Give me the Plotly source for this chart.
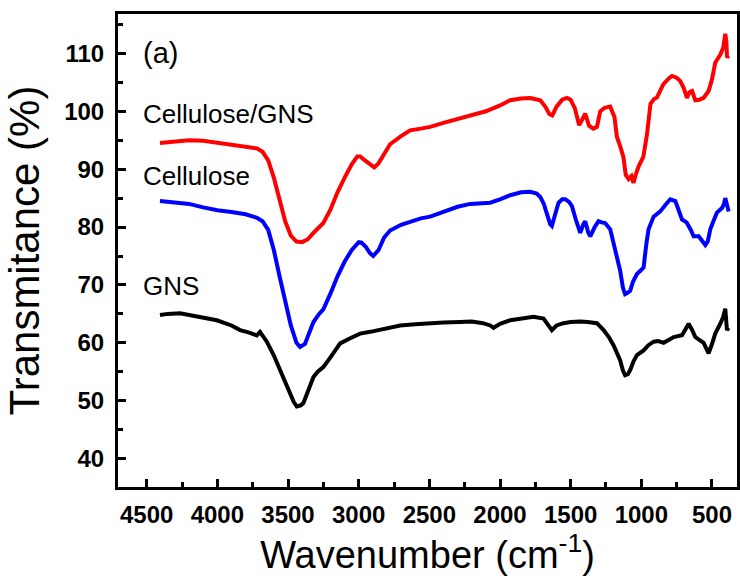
import plotly.graph_objects as go

# Cellulose/GNS (red)
wn_cg = [4406, 4300, 4200, 4100, 4000, 3900, 3800, 3720, 3680, 3640, 3600, 3560, 3520, 3480, 3440, 3400,
         3360, 3320, 3280, 3250, 3200, 3150, 3100, 3050, 3010, 2990, 2960, 2920, 2890, 2860, 2820, 2778,
         2700, 2636, 2560, 2494, 2400, 2300, 2211, 2100, 2000, 1928, 1850, 1786, 1715, 1680, 1650, 1630,
         1600, 1560, 1527, 1500, 1470, 1440, 1420, 1397, 1370, 1340, 1314, 1291, 1260, 1220, 1190, 1173,
         1150, 1127, 1110, 1090, 1070, 1056, 1040, 1019, 986, 960, 935, 910, 889, 844, 800, 783, 750, 724,
         700, 677, 660, 641, 618, 590, 559, 524, 500, 477, 441, 420, 406, 398, 394, 382]
t_cg = [94.5, 94.8, 95.0, 94.9, 94.6, 94.3, 94.0, 93.6, 93.0, 91.5, 88.5, 84.5, 81.0, 78.5, 77.5, 77.4,
        77.9, 79.0, 80.0, 80.7, 83.0, 86.0, 88.5, 90.8, 92.2, 92.2, 91.6, 90.8, 90.3, 91.0, 92.5, 94.3,
        95.7, 96.7, 97.0, 97.3, 98.0, 98.7, 99.3, 100.0, 101.0, 101.9, 102.2, 102.3, 101.9, 100.8, 99.5, 99.3,
        100.8, 102.0, 102.3, 102.0, 100.5, 97.6, 98.5, 99.6, 97.5, 97.0, 97.3, 100.0, 100.6, 100.8, 99.0, 95.6,
        94.0, 92.1, 89.0, 88.3, 88.8, 87.6, 89.0, 90.5, 92.1, 96.0, 101.3, 102.1, 102.4, 104.7, 105.8, 106.1, 105.8, 105.2,
        104.0, 102.3, 103.3, 103.5, 101.9, 102.0, 102.3, 103.5, 105.5, 108.4, 109.8, 111.0, 113.4, 112.0, 109.3, 109.6]

# Cellulose (blue)
wn_c = [4406, 4300, 4200, 4100, 4000, 3900, 3800, 3720, 3680, 3640, 3600, 3560, 3520, 3480, 3440, 3415,
        3380, 3350, 3320, 3280, 3250, 3200, 3150, 3100, 3050, 3000, 2980, 2950, 2920, 2897, 2860, 2820,
        2778, 2700, 2636, 2560, 2494, 2400, 2300, 2211, 2100, 2069, 2000, 1928, 1850, 1786, 1740, 1715,
        1690, 1668, 1645, 1633, 1610, 1586, 1560, 1538, 1510, 1491, 1460, 1432, 1410, 1397, 1375, 1361,
        1330, 1303, 1280, 1256, 1220, 1185, 1150, 1130, 1115, 1100, 1079, 1060, 1031, 1005, 984, 965, 949,
        913, 866, 830, 795, 759, 730, 712, 690, 677, 650, 630, 594, 570, 547, 530, 512, 490, 465, 429,
        415, 406, 396, 382]
t_c = [84.5, 84.3, 84.0, 83.4, 82.9, 82.6, 82.2, 81.6, 81.0, 79.5, 76.0, 71.5, 67.0, 63.0, 60.0, 59.3,
       59.8, 61.5, 63.6, 65.0, 65.8, 68.5, 71.5, 74.0, 76.0, 77.4, 77.3, 76.6, 75.5, 75.0, 76.0, 78.2,
       79.4, 80.4, 80.9, 81.5, 81.8, 82.7, 83.5, 84.0, 84.2, 84.2, 84.8, 85.5, 86.0, 86.1, 85.8, 85.2,
       84.0, 82.3, 80.5, 80.2, 82.0, 84.2, 84.8, 84.8, 84.3, 83.6, 81.0, 79.0, 80.5, 81.0, 79.0, 78.4,
       80.0, 81.0, 80.8, 80.7, 79.6, 76.1, 72.5, 69.5, 68.4, 68.6, 69.0, 70.5, 71.9, 72.5, 73.0, 77.0, 79.6,
       81.8, 82.7, 83.8, 84.8, 84.5, 82.5, 81.3, 81.0, 80.7, 79.5, 78.4, 78.4, 77.5, 76.9, 77.5, 79.6, 81.0, 82.5, 83.3,
       84.0, 85.0, 84.0, 82.7]

# GNS (black)
wn_g = [4406, 4350, 4264, 4200, 4100, 4004, 3900, 3839, 3780, 3721, 3698, 3670, 3650, 3600, 3556, 3520,
        3485, 3460, 3438, 3410, 3391, 3360, 3320, 3290, 3250, 3200, 3131, 3060, 2990, 2918, 2800, 2706,
        2600, 2494, 2400, 2282, 2200, 2120, 2069, 2046, 2000, 1928, 1850, 1763, 1692, 1660, 1633, 1600,
        1551, 1500, 1432, 1380, 1314, 1267, 1230, 1197, 1170, 1150, 1130, 1115, 1095, 1079, 1055, 1031,
        984, 950, 913, 880, 842, 800, 771, 712, 680, 665, 640, 618, 590, 559, 540, 524, 500, 477, 441,
        420, 406, 398, 394, 382]
t_g = [64.8, 65.0, 65.1, 64.8, 64.4, 63.9, 63.0, 62.2, 61.8, 61.3, 61.9, 61.0, 60.2, 57.8, 55.3, 53.3,
       51.3, 49.8, 49.0, 49.2, 49.6, 51.5, 54.1, 55.0, 55.8, 57.5, 59.9, 60.8, 61.6, 61.9, 62.6, 63.0,
       63.2, 63.4, 63.5, 63.6, 63.7, 63.4, 63.0, 62.6, 63.3, 63.9, 64.2, 64.5, 64.2, 63.2, 62.2, 63.0,
       63.4, 63.6, 63.7, 63.6, 63.4, 62.2, 61.0, 59.6, 58.2, 57.0, 55.2, 54.4, 54.6, 55.3, 56.8, 57.9,
       58.7, 59.6, 60.2, 60.3, 60.0, 60.6, 61.0, 61.3, 62.5, 63.3, 62.2, 61.0, 60.5, 60.0, 59.0, 58.2, 59.8, 61.6, 63.3,
       64.5, 65.9, 64.0, 62.2, 62.6]

x_ticks = [4500, 4000, 3500, 3000, 2500, 2000, 1500, 1000, 500]
y_ticks = [40, 50, 60, 70, 80, 90, 100, 110]

labels = ["(a)", "Cellulose/GNS", "Cellulose", "GNS"]
label_y = [110.0, 99.5, 88.8, 69.8]
label_size = [29, 26, 26, 26]

FONT = "Arial, Liberation Sans, sans-serif"

fig = go.Figure()
for wn, t, col, name in [(wn_cg, t_cg, "#ff0000", "Cellulose/GNS"),
                         (wn_c, t_c, "#0000ff", "Cellulose"),
                         (wn_g, t_g, "#000000", "GNS")]:
    fig.add_trace(go.Scatter(x=wn, y=t, mode="lines", name=name,
                             line=dict(color=col, width=4)))

for txt, yv, fs in zip(labels, label_y, label_size):
    fig.add_annotation(x=4540, y=yv, text=txt, showarrow=False, xanchor="left", yanchor="middle",
                       font=dict(family=FONT, size=fs, color="black"))

axis_common = dict(showline=True, linecolor="black", linewidth=3, mirror=True, showgrid=False,
                   zeroline=False, ticks="inside", tickwidth=3, tickcolor="black", ticklen=8,
                   tickfont=dict(family=FONT, size=24, color="black", weight="bold"))

fig.update_xaxes(range=[4703, 323], tickvals=x_ticks, ticktext=[str(v) for v in x_ticks],
                 minor=dict(ticks="inside", ticklen=5, tickwidth=3, tickcolor="black", dtick=250, tick0=0),
                 title=dict(text="Wavenumber (cm<sup>-1</sup>)", font=dict(family=FONT, size=38, color="black"),
                            standoff=14),
                 ticklabelstandoff=4,
                 **axis_common)
fig.update_yaxes(range=[35.1, 116.8], tickvals=y_ticks, ticktext=[str(v) for v in y_ticks],
                 minor=dict(ticks="inside", ticklen=5, tickwidth=3, tickcolor="black", dtick=5, tick0=0),
                 title=dict(text="Transmitance (%)", font=dict(family=FONT, size=42, color="black"),
                            standoff=12),
                 ticklabelstandoff=6,
                 **axis_common)

fig.update_layout(width=740, height=578, margin=dict(l=118, r=3, t=14, b=91, autoexpand=False),
                  plot_bgcolor="white", paper_bgcolor="white", showlegend=False)

fig.write_html("out.html", config={"displayModeBar": False},
               post_script="document.body.style.margin='0';document.body.style.overflow='hidden';")
